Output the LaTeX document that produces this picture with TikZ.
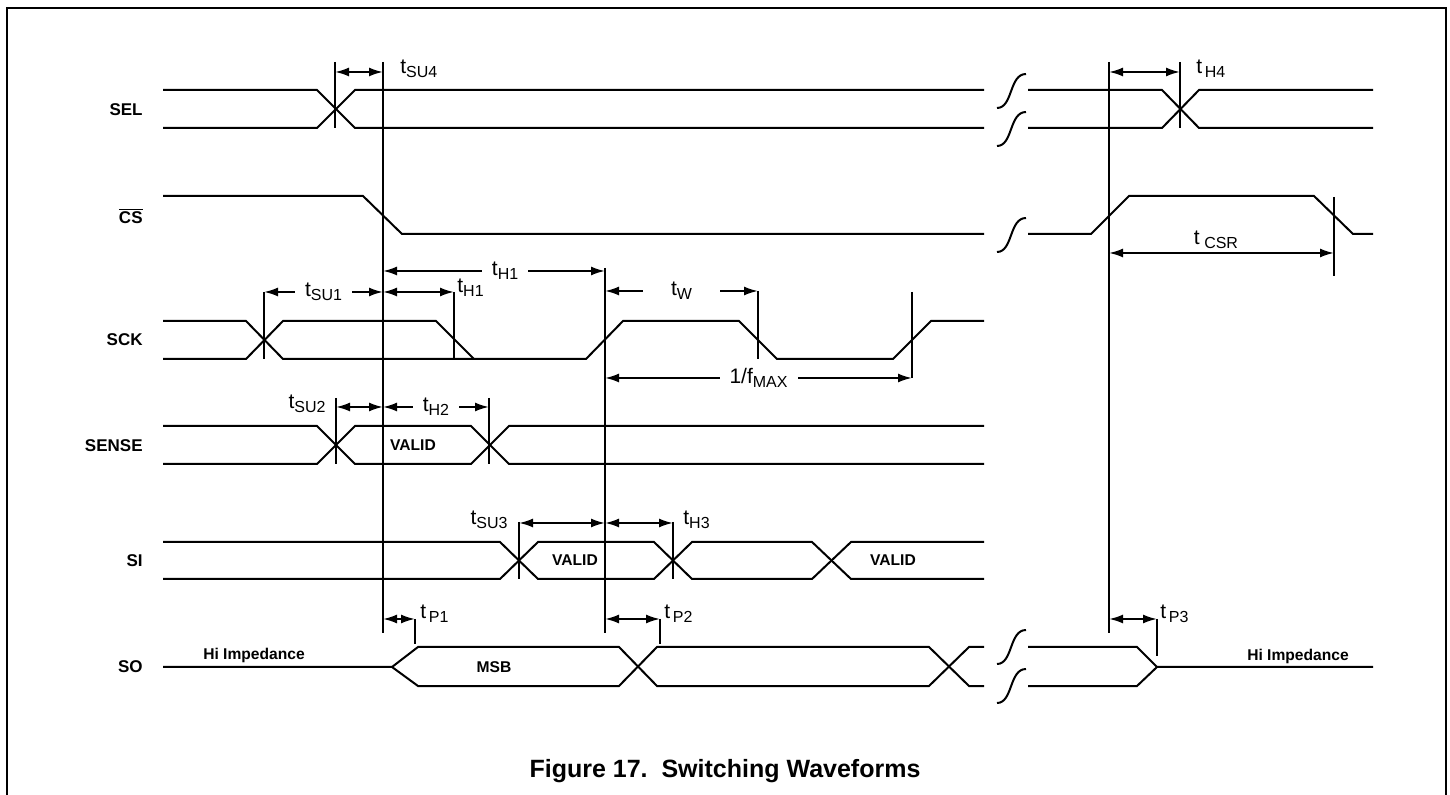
\documentclass[tikz,border=0pt]{standalone}
\usepackage{fontspec}
\setmainfont{Liberation Sans}
\usetikzlibrary{arrows.meta}

\newcommand{\tsym}[1]{t\raisebox{-2pt}{\fontsize{8}{9}\selectfont #1}}

\begin{document}
\begin{tikzpicture}[
  x=0.5pt, y=-0.5pt,
  wave/.style={line width=1pt, line join=miter},
  tickline/.style={line width=1pt},
  dim/.style={{Latex[length=7pt,width=4.5pt]}-{Latex[length=7pt,width=4.5pt]}, line width=1pt},
  sig/.style={font=\fontsize{8.5}{9}\selectfont\bfseries, anchor=east, inner sep=0pt},
  dat/.style={font=\fontsize{7.8}{8}\selectfont\bfseries, inner sep=0pt},
  tlbl/.style={font=\fontsize{10.5}{11}\selectfont, inner sep=0pt},
  gaplbl/.style={tlbl, fill=white, inner xsep=5pt, inner ysep=1pt}
]
\useasboundingbox (0,0) rectangle (1450,795);
\draw[line width=1.4pt] (7,800) -- (7,8) -- (1446,8) -- (1446,800);

% signal names
\node[sig] (sel)   at (143,110) {SEL};
\node[sig] (cs)    at (143,216) {$\overline{\hbox{\fontsize{8.5}{9}\selectfont\bfseries CS}}$};
\node[sig] (sck)   at (143,340) {SCK};
\node[sig] (sense) at (143,446) {SENSE};
\node[sig] (si)    at (143,561) {SI};
\node[sig] (so)    at (143,667) {SO};

% SEL
\draw[wave] (163,90) -- (317,90) -- (355,128) -- (984,128);
\draw[wave] (163,128) -- (317,128) -- (355,90) -- (984,90);
\draw[wave] (1028,90) -- (1162,90) -- (1199,128) -- (1373,128);
\draw[wave] (1028,128) -- (1162,128) -- (1199,90) -- (1373,90);

% CS
\draw[wave] (163,196) -- (363,196) -- (402,234) -- (984,234);
\draw[wave] (1028,234) -- (1091,234) -- (1129,196) -- (1314,196) -- (1353,234) -- (1373,234);

% SCK
\draw[wave] (163,321) -- (246,321) -- (283,359) -- (474,359);
\draw[wave] (163,359) -- (246,359) -- (283,321) -- (436,321) -- (474,359) -- (586,359)
  -- (623,321) -- (739,321) -- (777,359) -- (893,359) -- (931,321) -- (984,321);

% SENSE
\draw[wave] (163,426) -- (317,426) -- (355,464) -- (471,464) -- (509,426) -- (984,426);
\draw[wave] (163,464) -- (317,464) -- (355,426) -- (471,426) -- (509,464) -- (984,464);
\node[dat] (valid1) at (413,445) {VALID};

% SI
\draw[wave] (163,542) -- (500,542) -- (538,579) -- (654,579) -- (692,542) -- (812,542) -- (851,579) -- (984,579);
\draw[wave] (163,579) -- (500,579) -- (538,542) -- (654,542) -- (692,579) -- (812,579) -- (851,542) -- (984,542);
\node[dat] (valid2) at (575,560) {VALID};
\node[dat] (valid3) at (893,560) {VALID};

% SO
\draw[wave] (163,667) -- (392,667) -- (418,647) -- (619,647) -- (657,686) -- (929,686) -- (969,647) -- (984,647);
\draw[wave] (392,667) -- (418,686) -- (619,686) -- (657,647) -- (929,647) -- (969,686) -- (984,686);
\draw[wave] (1028,647) -- (1137,647) -- (1157,667) -- (1373,667);
\draw[wave] (1028,686) -- (1137,686) -- (1157,667);
\node[dat] (msb)  at (494,667) {MSB};
\node[dat] (hiz1) at (254,655) {Hi Impedance};
\node[dat] (hiz2) at (1298,656) {Hi Impedance};

% breaks
\foreach \y in {91,129,235,647,686}
  \draw[wave] (997,\y+17) .. controls (1013,\y+17) and (1009,\y-17) .. (1026,\y-17);

% reference lines
\draw[tickline] (383,62) -- (383,633);
\draw[tickline] (605,268) -- (605,633);
\draw[tickline] (1109,62) -- (1109,633);
\draw[tickline] (335,62) -- (335,128);
\draw[tickline] (1180,62) -- (1180,128);
\draw[tickline] (1334,197) -- (1334,276);
\draw[tickline] (264,292) -- (264,359);
\draw[tickline] (454,292) -- (454,359);
\draw[tickline] (758,291) -- (758,359);
\draw[tickline] (912,292) -- (912,378);
\draw[tickline] (336,398) -- (336,464);
\draw[tickline] (489,398) -- (489,464);
\draw[tickline] (519,522) -- (519,579);
\draw[tickline] (673,522) -- (673,579);
\draw[tickline] (415,619) -- (415,644);
\draw[tickline] (660,619) -- (660,644);
\draw[tickline] (1157,619) -- (1157,656);

% timing
\draw[dim] (335,72) -- (383,72);
\node[tlbl, anchor=west] (tsu4) at (400,69) {\tsym{SU4}};
\draw[dim] (1109,72) -- (1180,72);
\node[tlbl, anchor=west] (th4) at (1196,69) {\tsym{\,H4}};
\draw[dim] (1109,253) -- (1334,253);
\node[tlbl] (tcsr) at (1216,240) {\tsym{\ CSR}};
\draw[dim] (383,271) -- node[gaplbl, pos=0.55] (th1) {\tsym{H1}} (605,271);
\draw[dim] (264,292) -- node[gaplbl] (tsu1) {\tsym{SU1}} (383,292);
\draw[dim] (383,292) -- (454,292);
\node[tlbl, anchor=west] (th1b) at (457,288) {\tsym{H1}};
\draw[dim] (605,291) -- node[gaplbl, inner xsep=14pt] (tw) {\tsym{W}} (758,291);
\draw[dim] (605,378) -- node[gaplbl] (fmax) {1/f\raisebox{-2pt}{\fontsize{8}{9}\selectfont MAX}} (912,378);
\draw[dim] (336,407) -- (383,407);
\node[tlbl, anchor=east] (tsu2) at (326,404) {\tsym{SU2}};
\draw[dim] (383,407) -- node[gaplbl] (th2) {\tsym{H2}} (489,407);
\draw[dim] (519,523) -- (605,523);
\node[tlbl, anchor=east] (tsu3) at (508,520) {\tsym{SU3}};
\draw[dim] (605,523) -- (673,523);
\node[tlbl, anchor=west] (th3) at (683,520) {\tsym{H3}};
\draw[dim] (383,619) -- (415,619);
\node[tlbl, anchor=west] (tp1) at (420,614) {\tsym{\,P1}};
\draw[dim] (605,619) -- (660,619);
\node[tlbl, anchor=west] (tp2) at (664,614) {\tsym{\,P2}};
\draw[dim] (1109,619) -- (1157,619);
\node[tlbl, anchor=west] (tp3) at (1160,614) {\tsym{\,P3}};

\node[font=\fontsize{12.5}{14}\selectfont\bfseries] (cap) at (725,771) {Figure 17.\ \ Switching Waveforms};
\end{tikzpicture}
\end{document}
